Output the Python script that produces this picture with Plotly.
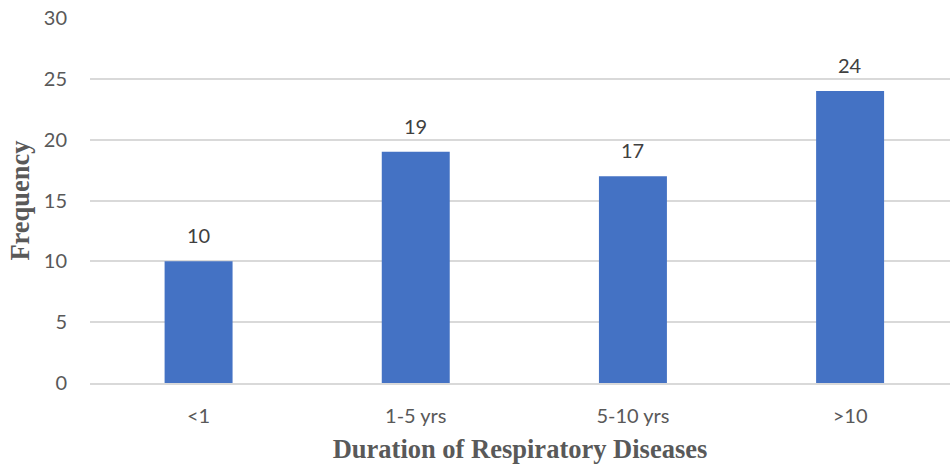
import plotly.graph_objects as go

# Duration of respiratory disease vs. number of respondents
categories = ["<1", "1-5 yrs", "5-10 yrs", ">10"]
frequency = [10, 19, 17, 24]
y_ticks = [0, 5, 10, 15, 20, 25, 30]

bar_color = "#4472C4"
grid_color = "#D9D9D9"
tick_color = "#595959"

fig = go.Figure(
    go.Bar(
        x=categories,
        y=frequency,
        marker=dict(color=bar_color, line=dict(width=0)),
        width=0.313,
        hoverinfo="x+y",
    )
)

# Value labels above each bar
for cat, val in zip(categories, frequency):
    fig.add_annotation(
        x=cat, y=val, text=str(val), showarrow=False,
        yanchor="bottom", yshift=12,
        font=dict(family="Lato, Open Sans, sans-serif", size=20, color="#404040"),
    )

fig.update_layout(
    width=950, height=470,
    margin=dict(l=90, r=0, t=18, b=87),
    paper_bgcolor="white", plot_bgcolor="white",
    showlegend=False,
)

fig.update_xaxes(
    range=[-0.5, 3.46],
    showgrid=False, zeroline=False,
    showline=True, linecolor=grid_color, linewidth=1.5,
    ticks="", ticklabelstandoff=14,
    tickfont=dict(family="Lato, Open Sans, sans-serif", size=20, color=tick_color),
    title=dict(
        text="<b>Duration of Respiratory Diseases</b>",
        font=dict(family="Liberation Serif, Times New Roman, serif", size=26.5, color=tick_color),
        standoff=14,
    ),
)

fig.update_yaxes(
    range=[0, 30],
    tickvals=y_ticks,
    showgrid=True, gridcolor=grid_color, gridwidth=1.5,
    zeroline=False, showline=False,
    ticks="", ticklabelstandoff=22,
    tickfont=dict(family="Lato, Open Sans, sans-serif", size=20, color=tick_color),
    title=dict(
        text="<b>Frequency</b>",
        font=dict(family="Liberation Serif, Times New Roman, serif", size=26.5, color=tick_color),
        standoff=6,
    ),
)

fig.write_html("out.html")
